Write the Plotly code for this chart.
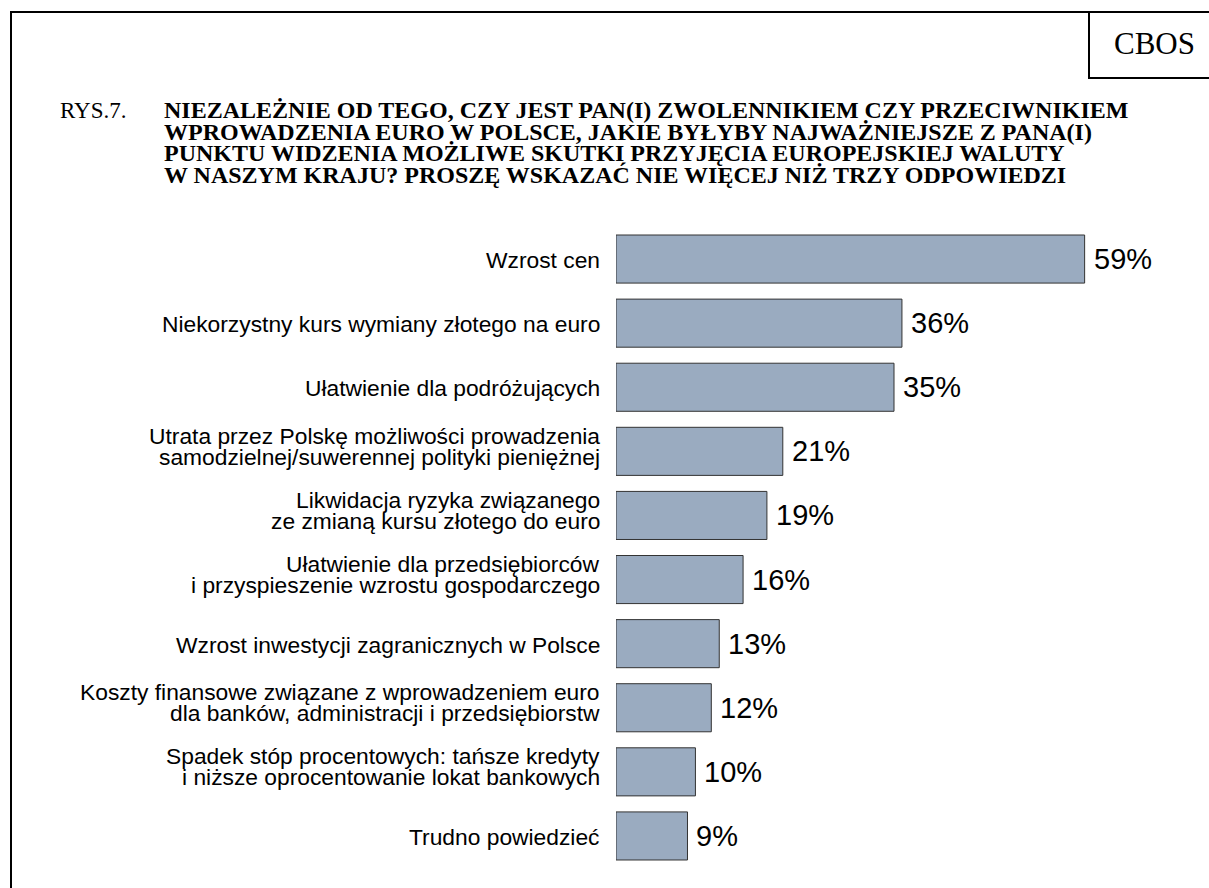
import plotly.graph_objects as go

# ---------------- data ----------------
categories = [
    "Wzrost cen",
    "Niekorzystny kurs wymiany złotego na euro",
    "Ułatwienie dla podróżujących",
    "Utrata przez Polskę możliwości prowadzenia\nsamodzielnej/suwerennej polityki pieniężnej",
    "Likwidacja ryzyka związanego\nze zmianą kursu złotego do euro",
    "Ułatwienie dla przedsiębiorców\ni przyspieszenie wzrostu gospodarczego",
    "Wzrost inwestycji zagranicznych w Polsce",
    "Koszty finansowe związane z wprowadzeniem euro\ndla banków, administracji i przedsiębiorstw",
    "Spadek stóp procentowych: tańsze kredyty\ni niższe oprocentowanie lokat bankowych",
    "Trudno powiedzieć",
]
values = [59, 36, 35, 21, 19, 16, 13, 12, 10, 9]
value_labels = [f"{v}%" for v in values]

figure_number = "RYS.7."
title_lines = [
    "NIEZALEŻNIE OD TEGO, CZY JEST PAN(I) ZWOLENNIKIEM CZY PRZECIWNIKIEM",
    "WPROWADZENIA EURO W POLSCE, JAKIE BYŁYBY NAJWAŻNIEJSZE Z PANA(I)",
    "PUNKTU WIDZENIA MOŻLIWE SKUTKI PRZYJĘCIA EUROPEJSKIEJ WALUTY",
    "W NASZYM KRAJU? PROSZĘ WSKAZAĆ NIE WIĘCEJ NIŻ TRZY ODPOWIEDZI",
]
source = "CBOS"

# ---------------- layout geometry ----------------
W, H = 1209, 888
ML, MR, MT, MB = 616, 37, 227, 20
PW = W - ML - MR
PH = H - MT - MB


def px(xp):
    return (xp - ML) / PW


def py(yp):
    return (H - MB - yp) / PH


SANS = "Liberation Sans, Arial, sans-serif"
SERIF = "Liberation Serif, Times New Roman, serif"

fig = go.Figure(
    go.Bar(
        x=values,
        y=categories,
        orientation="h",
        marker=dict(color="#9AABC0", line=dict(color="#333333", width=1)),
        hoverinfo="skip",
    )
)

annotations = []
# category labels (multi-line, tight leading)
for cat in categories:
    lines = cat.split("\n")
    shifts = [-1] if len(lines) == 1 else [15.5, -5.5]
    for line, sh in zip(lines, shifts):
        annotations.append(dict(
            x=0, y=cat, xref="x", yref="y", text=line, showarrow=False,
            xanchor="right", yanchor="middle", xshift=-16, yshift=sh,
            font=dict(family=SANS, size=22.8, color="#000000"),
            borderpad=0, borderwidth=0,
        ))
# value labels
for cat, v, lab in zip(categories, values, value_labels):
    annotations.append(dict(
        x=v, y=cat, xref="x", yref="y", text=lab, showarrow=False,
        xanchor="left", yanchor="middle", xshift=9, yshift=0,
        font=dict(family=SANS, size=29, color="#000000"),
        borderpad=0, borderwidth=0,
    ))
# title
annotations.append(dict(
    x=px(60), y=py(110), xref="paper", yref="paper", text=figure_number,
    showarrow=False, xanchor="left", yanchor="middle",
    font=dict(family=SERIF, size=23, color="#000000"), borderpad=0, borderwidth=0,
))
for i, line in enumerate(title_lines):
    annotations.append(dict(
        x=px(164), y=py(110 + i * 21.7), xref="paper", yref="paper",
        text=f"<b>{line}</b>", showarrow=False, xanchor="left", yanchor="middle",
        font=dict(family=SERIF, size=24, color="#000000"), borderpad=0, borderwidth=0,
    ))
# source box text
annotations.append(dict(
    x=px(1154), y=py(44), xref="paper", yref="paper", text=source,
    showarrow=False, xanchor="center", yanchor="middle",
    font=dict(family=SERIF, size=31, color="#000000"), borderpad=0, borderwidth=0,
))

shapes = [
    dict(type="line", xref="paper", yref="paper", x0=px(11), x1=px(11),
         y0=py(11), y1=py(900), line=dict(color="#000000", width=2)),
    dict(type="line", xref="paper", yref="paper", x0=px(10), x1=px(1230),
         y0=py(12), y1=py(12), line=dict(color="#000000", width=2)),
    dict(type="rect", xref="paper", yref="paper", x0=px(1089), x1=px(1230),
         y0=py(12), y1=py(78), line=dict(color="#000000", width=2)),
]

fig.update_layout(
    width=W, height=H,
    margin=dict(l=ML, r=MR, t=MT, b=MB, pad=0),
    paper_bgcolor="#ffffff", plot_bgcolor="#ffffff",
    showlegend=False,
    bargap=0.25,
    xaxis=dict(range=[0, 70], visible=False, fixedrange=True),
    yaxis=dict(type="category", categoryorder="array", categoryarray=categories,
               range=[len(categories) - 0.5, -0.5], visible=False, fixedrange=True),
    annotations=annotations,
    shapes=shapes,
)

fig.write_html(
    "out.html",
    config={"displayModeBar": False},
    post_script="document.body.style.margin='0';document.body.style.overflow='hidden';",
)
